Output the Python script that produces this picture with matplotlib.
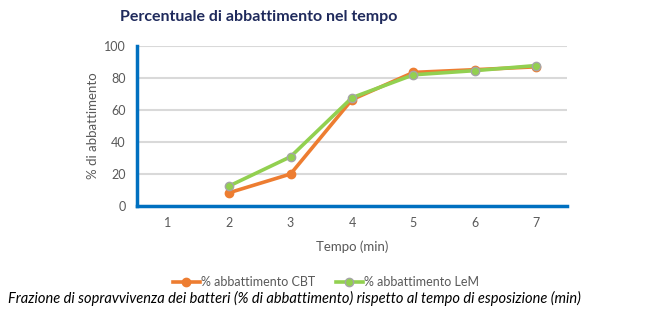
import matplotlib.pyplot as plt

tempo = [1, 2, 3, 4, 5, 6, 7]
cbt_t = [2, 3, 4, 5, 6, 7]
cbt = [8.3, 20, 66.5, 83.5, 85.2, 87]
lem_t = [2, 3, 4, 5, 6, 7]
lem = [12.5, 30.8, 67.7, 82, 84.6, 87.8]

plt.rcParams['font.family'] = ['Lato', 'DejaVu Sans']

fig = plt.figure(figsize=(6.59, 3.24), dpi=100)
ax = fig.add_axes([137/659, 1 - 206/324, 430/659, 160/324])

ax.plot(cbt_t, cbt, color='#ED7D31', lw=2.6, marker='o', ms=6,
        mfc='#ED7D31', mec='#ED7D31', label='% abbattimento CBT', zorder=3)
ax.plot(lem_t, lem, color='#92D050', lw=2.6, marker='o', ms=6,
        mfc='#92D050', mec='#A5A5A5', mew=1, label='% abbattimento LeM', zorder=4)

ax.set_xlim(0.5, 7.5)
ax.set_ylim(0, 100)
ax.set_xticks(tempo)
ax.set_yticks(range(0, 101, 20))
ax.yaxis.grid(True, color='#D9D9D9', lw=1.5)
ax.set_axisbelow(True)
ax.tick_params(length=0, colors='#595959', labelsize=9, pad=8)
for s in ['top', 'right']:
    ax.spines[s].set_visible(False)
for s in ['left', 'bottom']:
    ax.spines[s].set_color('#0070C0')
    ax.spines[s].set_linewidth(2.5)

ax.set_xlabel('Tempo (min)', color='#595959', fontsize=9.5, labelpad=8)
ax.set_ylabel('% di abbattimento', color='#595959', fontsize=9.5, labelpad=4)

fig.text(259/659, 1 - 17/324, 'Percentuale di abbattimento nel tempo',
         ha='center', va='center', fontsize=11.5, fontweight='bold', color='#1F2A5C')

fig.legend(loc='center', bbox_to_anchor=(326/659, 1 - 282/324), ncol=2, frameon=False,
           fontsize=9, labelcolor='#595959', handlelength=2.2, columnspacing=1.6,
           handletextpad=0.1)

fig.text(294/659, 1 - 298/324,
         'Frazione di sopravvivenza dei batteri (% di abbattimento) rispetto al tempo di esposizione (min)',
         ha='center', va='center', fontsize=10.5, style='italic', color='black')

fig.savefig('out.png', dpi=100)
